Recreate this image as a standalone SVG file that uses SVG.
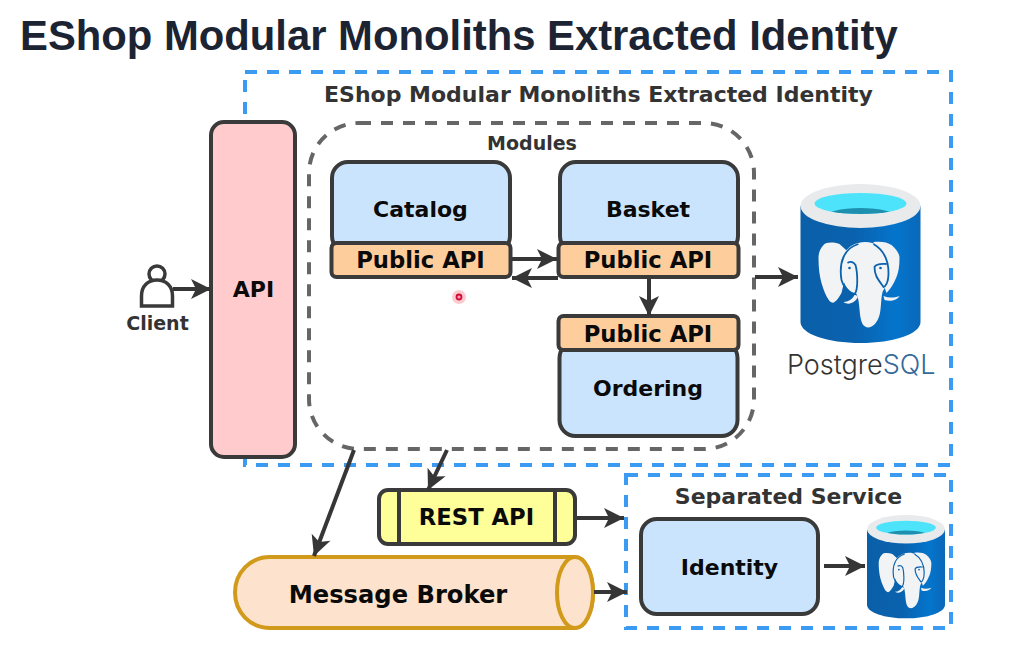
<svg xmlns="http://www.w3.org/2000/svg" width="1014" height="654" viewBox="0 0 1014 654">
<style>
text{font-family:"DejaVu Sans",sans-serif;font-weight:700;text-anchor:middle;fill:#0a0a0a}
.title{font-family:"Liberation Sans",Arial,sans-serif;font-size:41.800px;text-anchor:start;fill:#1c2433}
.grp{fill:#333;font-size:22px}
.sub{fill:#333;font-size:19px}
.lbl{font-size:22px}
.pa{font-size:22.700px}
.blue{fill:none;stroke:#3b9bf2;stroke-width:4;stroke-dasharray:12 10}
.gray{fill:none;stroke:#666;stroke-width:4;stroke-dasharray:12 10}
.box{stroke:#3a3a3a;stroke-width:4}
.mod{fill:#cbe4fd}
.pub{fill:#fecd9c}
.conn{fill:none;stroke:#363636;stroke-width:4;marker-end:url(#arrow)}
.pg{font-family:"Inter","Liberation Sans",sans-serif;font-weight:300;font-size:27px;text-anchor:start}
</style>
<defs>
<marker id="arrow" markerUnits="userSpaceOnUse" markerWidth="24" markerHeight="24" refX="21" refY="12" orient="auto">
<path d="M1 2L21 12L1 22L6 12Z" fill="#363636"/>
</marker>
<linearGradient id="dbfill" x1="0" x2="1" y1="0" y2="0">
<stop offset="0" stop-color="#0a5fa8"/><stop offset=".45" stop-color="#0a62ae"/><stop offset=".8" stop-color="#0475cc"/><stop offset="1" stop-color="#0a68b8"/>
</linearGradient>
<clipPath id="well"><ellipse cx="60" cy="19.500" rx="46" ry="10.500"/></clipPath>
<g id="db">
<path d="M0 22V138C0 150 27 159 60 159S120 150 120 138V22Z" fill="url(#dbfill)"/>
<ellipse cx="60" cy="22" rx="60" ry="22" fill="#e8eaec"/>
<ellipse cx="60" cy="19.500" rx="46" ry="10.500" fill="#4de4fb"/>
<ellipse cx="60" cy="33" rx="36" ry="9" fill="#1f8fb0" clip-path="url(#well)"/>
<path d="M39 60C32 58 26 58 23 61C19 65 18 70 18 74C18 84 19 92 21 99C23 106 26 113 29 117C31 119 33 119 34 118C37 116 39 112 41 109L50 70Z" fill="#f2f3f5"/>
<path d="M73 58C80 57 87 58 91 61C96 65 99 70 99 74C99 82 98 88 96 93C93 100 90 105 86 109L76 80Z" fill="#f2f3f5"/>
<path d="M41 80C42 66 52 58 65 58C80 58 90 72 88 90C87 100 84 104 82 108C80 116 81 128 78 134C74 144 66 146 62 140C58 132 60 118 56 110C46 108 40 96 41 80Z" fill="#f2f3f5"/>
<path d="M58 60C44 64 38 78 41 96C44 106 51 110 54 110C58 106 57 88 55 81C53 78 50 77 47 79M73 60C83 66 88 76 88 89C88 100 84 103 83 103C78 96 74 92 74 83C76 79 82 80 86 80" fill="none" stroke="#0a62ae" stroke-width="1.800"/>
<path d="M43 118C48 118 52 115 54 111C56 111 58 112 57 114C53 120 47 121 43 118ZM83 112C88 114 93 114 99 112C97 116 90 118 84 116Z" fill="#f2f3f5"/>
<circle cx="49" cy="84" r="1.300" fill="#0a62ae"/><circle cx="80" cy="84" r="1.300" fill="#0a62ae"/>
</g>
</defs>
<rect width="1014" height="654" fill="#fff"/>
<text class="title" x="20" y="49.500">EShop Modular Monoliths Extracted Identity</text>
<g id="identity-boundary">
<rect class="blue" x="245" y="72" width="706" height="393"/>
<text class="grp" x="598.500" y="102">EShop Modular Monoliths Extracted Identity</text>
</g>
<g id="modules">
<rect class="gray" x="309" y="123" width="445" height="326" rx="50"/>
<text class="sub" x="532" y="150">Modules</text>
</g>
<g id="separated-service">
<rect class="blue" x="626" y="475" width="325" height="153"/>
<text class="grp" x="788.500" y="504">Separated Service</text>
</g>
<g id="client">
<circle cx="157" cy="274" r="8" fill="#fff" stroke="#3a3a3a" stroke-width="3.500"/>
<path d="M141.500 306V296C141.500 286 148 280 157 280S172.500 286 172.500 296V306Z" fill="#fff" stroke="#3a3a3a" stroke-width="3.500"/>
<text class="sub" x="157.500" y="330">Client</text>
</g>
<g id="api">
<rect class="box" x="211" y="122" width="84" height="335" rx="13" fill="#ffcbcd"/>
<text class="lbl" x="253.500" y="297">API</text>
</g>
<g id="catalog">
<rect class="box mod" x="332" y="162" width="178" height="90" rx="16"/>
<text class="lbl" x="420.500" y="217">Catalog</text>
<rect class="box pub" x="331.500" y="243" width="179" height="34" rx="5"/>
<text class="lbl pa" x="420.500" y="268">Public API</text>
</g>
<g id="basket">
<rect class="box mod" x="560" y="162" width="178" height="90" rx="16"/>
<text class="lbl" x="648" y="217">Basket</text>
<rect class="box pub" x="558.500" y="243" width="180" height="34" rx="5"/>
<text class="lbl pa" x="648" y="268">Public API</text>
</g>
<g id="ordering">
<rect class="box mod" x="559.500" y="342" width="178" height="94" rx="16"/>
<rect class="box pub" x="558.500" y="316" width="180" height="34" rx="5"/>
<text class="lbl pa" x="648" y="341.500">Public API</text>
<text class="lbl" x="648" y="396">Ordering</text>
</g>
<g id="rest-api">
<rect class="box" x="379" y="490" width="196" height="54" rx="9" fill="#ffff99"/>
<path class="box" d="M399 490V544M555 490V544" fill="none"/>
<text class="lbl pa" x="476.500" y="524.500">REST API</text>
</g>
<g id="message-broker">
<path d="M270 557H575C585 557 593 573 593 592.500S585 628 575 628H270C250 628 235 612 235 592.500S250 557 270 557Z" fill="#fde3cd" stroke="#d19a1a" stroke-width="4"/>
<ellipse cx="575" cy="592.500" rx="18" ry="35.500" fill="#fde3cd" stroke="#d19a1a" stroke-width="4"/>
<text class="lbl" x="398" y="603" style="font-size:24.200px">Message Broker</text>
</g>
<g id="identity">
<rect class="box mod" x="641" y="519" width="177" height="95" rx="16"/>
<text class="lbl" x="729.500" y="575">Identity</text>
</g>
<g id="postgres">
<use href="#db" transform="translate(800.500 184)"/>
<text class="pg" x="787" y="374" style="fill:#333">Postgre<tspan style="fill:#336a9c">SQL</tspan></text>
</g>
<g id="identity-db">
<use href="#db" transform="translate(867 515) scale(.65)"/>
</g>
<g id="connectors">
<path class="conn" d="M173 289H211"/>
<path class="conn" d="M512 259H557"/>
<path class="conn" d="M558 278H512"/>
<path class="conn" d="M649 279V316"/>
<path class="conn" d="M755 277H798"/>
<path class="conn" d="M447 450L428 490"/>
<path class="conn" d="M354 450L314 556"/>
<path class="conn" d="M577 518H624"/>
<path class="conn" d="M594 592H627"/>
<path class="conn" d="M824 566H865"/>
</g>
<g id="cursor">
<circle cx="459" cy="297" r="7" fill="#f56a7c" opacity=".35"/>
<circle cx="459" cy="297" r="2.500" fill="#f9c" stroke="#d01030" stroke-width="1.800"/>
</g>
</svg>
